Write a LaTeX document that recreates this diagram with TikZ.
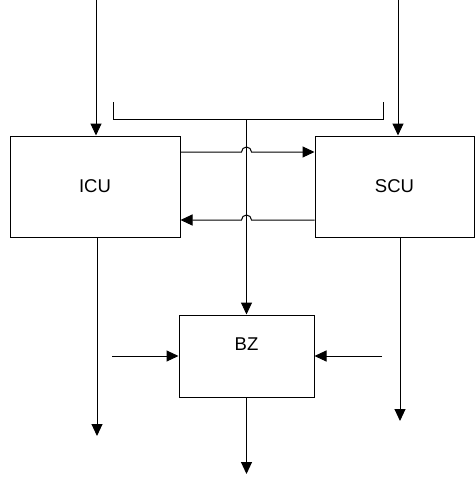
\documentclass[tikz,border=0pt]{standalone}
\usepackage{fontspec}
\setmainfont{Liberation Sans}
\usepackage{tikz}
\usetikzlibrary{positioning,arrows.meta,calc}

\begin{document}
\begin{tikzpicture}[x=1pt, y=-1pt, >={Triangle[length=12pt,width=11pt]}, line width=1pt,
    unit/.style={draw, minimum width=#1, minimum height=101pt, inner sep=0pt, font=\fontsize{18.5}{22}\selectfont},
    bzbox/.style={draw, minimum width=135pt, minimum height=82pt, inner sep=0pt}]
    \useasboundingbox (0,0) rectangle (475,479);

    % Units
    \node[unit=170pt] (ICU) at (95, 186.5) {ICU};
    \node[unit=159pt] (SCU) at (394.5, 186.5) {SCU};

    % Buffer block
    \node[bzbox] (BZ) at (246.5, 356) {};
    \node[font=\fontsize{18.5}{22}\selectfont] (BZlbl) at (246.5, 344.5) {BZ};

    % Inputs from above
    \coordinate (inL) at (96, 0);
    \coordinate (inR) at (398, 0);
    \draw[->] (inL) -- (inL |- ICU.north);
    \draw[->] (inR) -- (inR |- SCU.north);

    % Bracket and central line
    \coordinate (brL) at (113, 102);
    \coordinate (brR) at (383, 102);
    \coordinate (brC) at (246.5, 119);
    \draw (brL) -- (brL |- brC) -- (brR |- brC) -- (brR);
    \draw[->] (brC) -- (BZ.north);

    % Links between units (hop over central line)
    \coordinate (hopT) at (241.5, 152);
    \coordinate (hopB) at (251.5, 220);
    \draw[->] (ICU.east |- hopT) -- (hopT) arc[start angle=180, end angle=360, radius=5] -- (SCU.west |- hopT);
    \draw[->] (SCU.west |- hopB) -- (hopB) arc[start angle=0, end angle=-180, radius=5] -- (ICU.east |- hopB);

    % Outputs of the units
    \coordinate (outL) at (97, 436);
    \coordinate (outR) at (400, 421);
    \draw[->] (outL |- ICU.south) -- (outL);
    \draw[->] (outR |- SCU.south) -- (outR);

    % Side inputs and output of BZ
    \coordinate (sideL) at (112, 356);
    \coordinate (sideR) at (382, 356);
    \coordinate (outB) at (246.5, 474);
    \draw[->] (sideL) -- (BZ.west);
    \draw[->] (sideR) -- (BZ.east);
    \draw[->] (BZ.south) -- (outB);
\end{tikzpicture}
\end{document}
